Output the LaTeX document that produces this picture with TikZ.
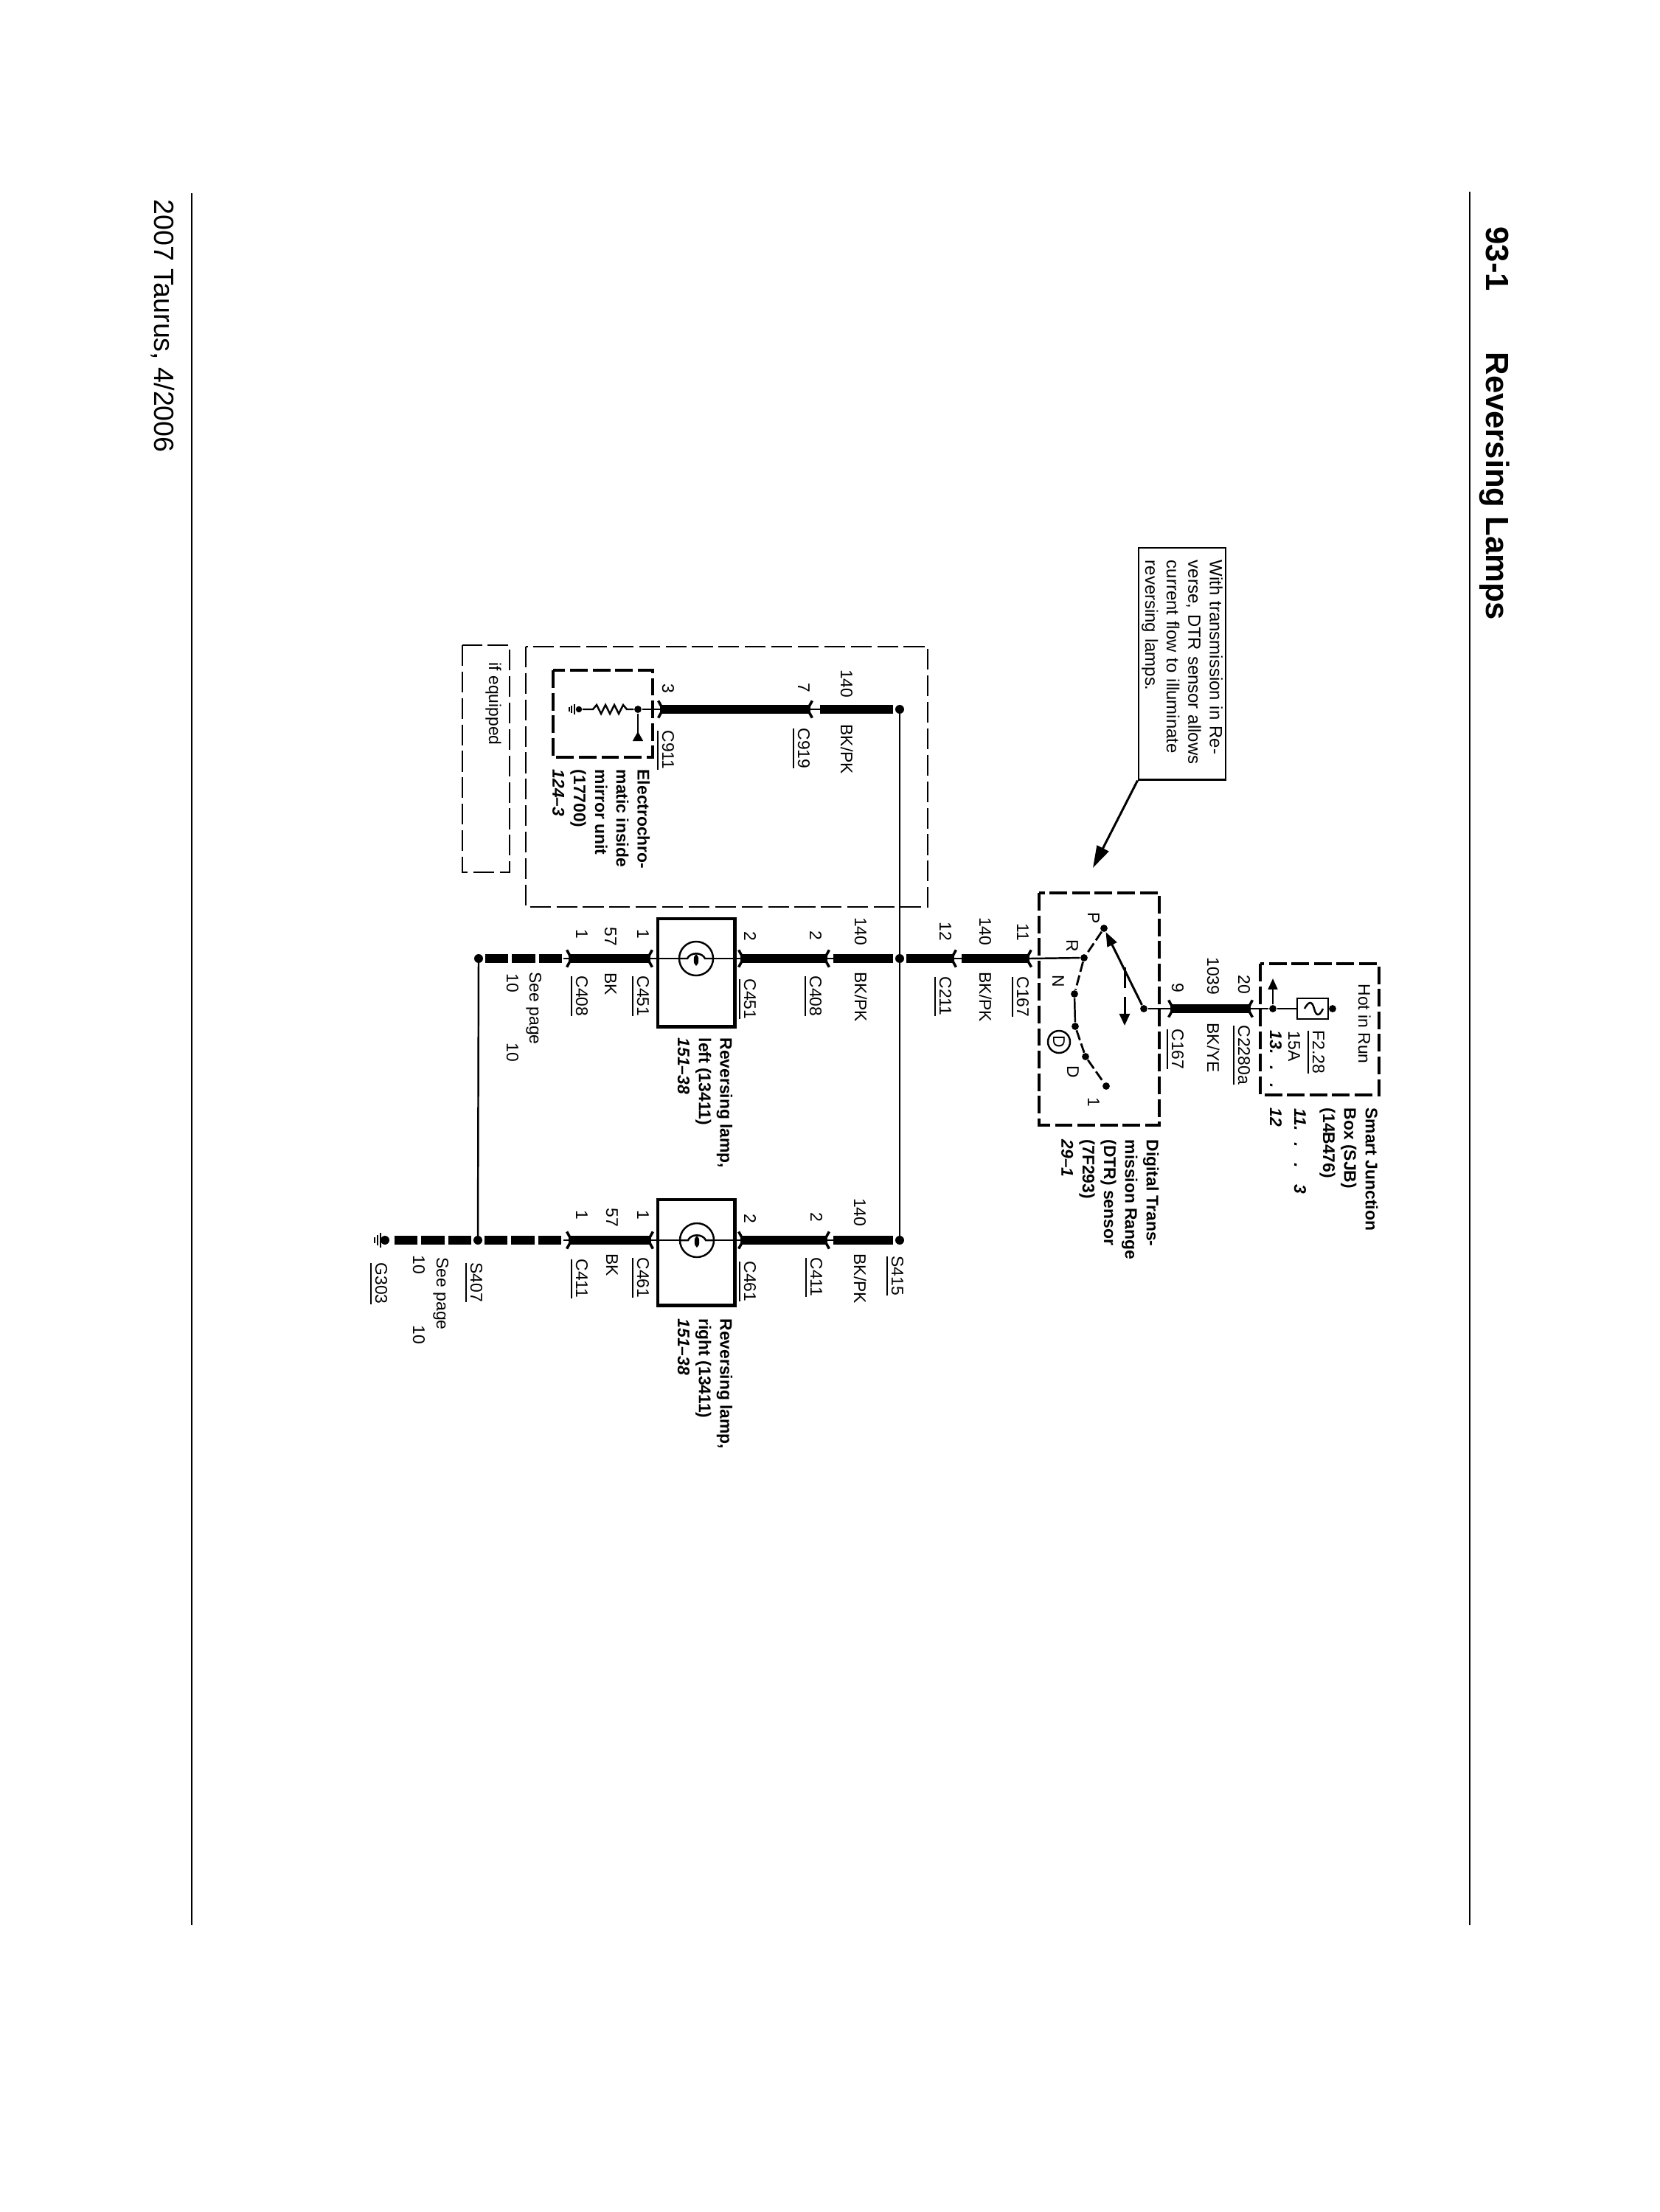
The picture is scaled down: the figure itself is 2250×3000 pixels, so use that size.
\documentclass[tikz,border=0pt]{standalone}
\usepackage{fontspec}
\setmainfont{Liberation Sans}
\usetikzlibrary{arrows.meta}

% connector name, printed over a rule
\newcommand{\conname}[1]{\vtop{\hbox{#1}\kern1.5pt\hrule height 0.5pt}}

\tikzset{
  lbl/.style={rotate=-90, anchor=base west, inner sep=0pt, font=\fontsize{6.5}{8.2}\selectfont},
  num/.style={lbl, anchor=base east},
  bigtxt/.style={lbl, align=left, anchor=north west, font=\fontsize{6.5}{8.2}\selectfont\bfseries},
  wire/.style={line width=3.4pt},
  wiredash/.style={wire, dash pattern=on 8.9pt off 1.4pt},
  hair/.style={line width=0.7pt},
  linkin/.style={hair, -{Straight Barb[length=1.8pt,width=6.6pt,line width=1pt]}, shorten >=-1.7pt},
  spl/.style={circle, fill=black, inner sep=0pt, minimum size=3.4pt, outer sep=0.9pt},
  cdot/.style={circle, fill=black, inner sep=0pt, minimum size=2.8pt},
  heavydash/.style={line width=1.2pt, dash pattern=on 6.8pt off 1.9pt},
  lightdash/.style={line width=0.7pt, dash pattern=on 8pt off 2.2pt},
  contact/.style={line width=0.8pt, dash pattern=on 4pt off 1.4pt},
  lampbox/.style={draw, line width=1.4pt, minimum width=1.04cm, inner sep=0pt},
  lampbulb/.pic={
    \draw[hair, fill=white] (0,0) circle [radius=0.23cm];
    \draw[hair] (-23,0) -- (-12,0) .. controls (-8,-9) and (8,-9) .. (12,0) -- (23,0);
    \draw[hair, fill=black] (0,2) ellipse [x radius=0.02cm, y radius=0.06cm];
  }
}

\begin{document}
\begin{tikzpicture}[x=0.01cm, y=-0.01cm]
  \useasboundingbox (0,0) rectangle (2250,3000);

  % page frame
  \coordinate (ruleRa) at (1993,260);
  \coordinate (ruleRb) at (1993,2611);
  \coordinate (ruleLa) at (260,262);
  \coordinate (ruleLb) at (260,2611);
  \draw[line width=0.8pt] (ruleRa) -- (ruleRb);
  \draw[line width=0.6pt] (ruleLa) -- (ruleLb);
  \node[lbl, font=\fontsize{12.4}{14}\selectfont\bfseries] (pagenum) at (2015,307) {93-1};
  \node[lbl, font=\fontsize{12.4}{14}\selectfont\bfseries] (pagetitle) at (2015,477) {Reversing Lamps};
  \node[lbl, font=\fontsize{10.7}{12}\selectfont] (pagefoot) at (209,270) {2007 Taurus, 4/2006};

  % note
  \node[rotate=-90, draw, line width=0.8pt, minimum width=3.14cm, minimum height=1.18cm,
    inner xsep=0.17cm, inner ysep=0pt, text width=2.8cm, align=left,
    font=\fontsize{6.8}{8.3}\selectfont] (note) at (1603,900)
    {With transmission in Re-\\verse, DTR sensor allows\\current flow to illuminate\\reversing lamps.};
  \coordinate (notetip) at (1482,1177);
  \draw[line width=0.85pt, -{Triangle[length=8.5pt,width=5pt]}] (note.south east) -- (notetip);

  % smart junction box
  \draw[heavydash] (1709,1307) rectangle (1870,1485);
  \node[draw, line width=0.8pt, minimum width=0.42cm, minimum height=0.28cm, inner sep=0pt] (fuse) at (1780,1368) {};
  \node[cdot] (fuseend) at (1807,1368) {};
  \node[cdot] (sjbjct) at (1726,1368) {};
  \coordinate (sjbtip) at (1726,1327);
  \coordinate (c2280) at (1696,1368);
  \coordinate (c167b) at (1587,1368);
  \draw[hair] (1769,1368) .. controls (1776,1355) and (1780,1360) .. (1782,1368)
    .. controls (1784,1376) and (1788,1381) .. (1794,1368);
  \draw[hair] (fuse) -- (fuseend);
  \draw[hair] (sjbjct) -- (fuse);
  \draw[hair, -{Triangle[length=4.2pt,width=3.6pt]}] (sjbjct) -- (sjbtip);
  \draw[wire] (c167b) -- (c2280);
  \draw[linkin] (sjbjct) -- (c2280);
  \node[lbl] (hotrun) at (1842,1334) {Hot in Run};
  \node[lbl] (fusename) at (1780,1397) {\conname{F2.28}};
  \node[lbl] (fuseamp) at (1747,1398) {15A};
  \node[lbl, font=\fontsize{6.5}{8.2}\selectfont\bfseries\itshape] (sjbpagea) at (1722,1397) {13.\hspace{4.5pt}.\hspace{5pt}.\hspace{7.7pt}12};
  \node[lbl, font=\fontsize{6.5}{8.2}\selectfont\bfseries\itshape] (sjbpageb) at (1755,1503) {11.\hspace{4.5pt}.\hspace{6pt}.\hspace{6.5pt}3};
  \node[bigtxt] (sjbname) at (1869,1502) {Smart Junction\\Box (SJB)\\(14B476)};
  \node[num] (pin20) at (1679,1349) {20};
  \node[lbl] (c2280name) at (1679,1390) {\conname{C2280a}};
  \node[num] (wire1039) at (1637,1350) {1039};
  \node[lbl] (bkye) at (1637,1387) {BK/YE};
  \node[num] (pin9) at (1589,1347) {9};
  \node[lbl] (c167bname) at (1589,1395) {\conname{C167}};

  % digital transmission range sensor
  \draw[heavydash] (1409,1211) rectangle (1572,1526);
  \node[cdot] (armdot) at (1551,1368) {};
  \node[cdot] (swP) at (1497,1259) {};
  \node[cdot] (swR) at (1470,1299) {};
  \node[cdot] (swN) at (1457,1348) {};
  \node[cdot] (swX) at (1458,1392) {};
  \node[cdot] (swD) at (1472,1433) {};
  \node[cdot] (sw1) at (1500,1473) {};
  \coordinate (armmid) at (1525,1312);
  \coordinate (armtip) at (1525,1391);
  \draw[line width=0.85pt, -{Triangle[length=5.5pt,width=4pt]}] (armdot) -- (swP);
  \draw[line width=0.85pt, dash pattern=on 8pt off 3.4pt, -{Triangle[length=4.6pt,width=4pt]}] (armmid) -- (armtip);
  \draw[contact] (swP) -- (swR) -- (swN);
  \draw[hair] (swN) -- (swX);
  \draw[contact] (swX) -- (swD) -- (sw1);
  \draw[linkin] (armdot) -- (c167b);
  \node[lbl] (labP) at (1475,1237) {P};
  \node[lbl] (labR) at (1446,1274) {R};
  \node[lbl] (labN) at (1427,1322) {N};
  \node[lbl] (labD) at (1447,1445) {D};
  \node[lbl] (lab1) at (1475,1488) {1};
  \node[circle, draw, hair, inner sep=0pt, minimum size=0.3cm, rotate=-90, font=\fontsize{6.5}{8.2}\selectfont] (gearD) at (1436,1413) {D};
  \node[bigtxt] (dtrname) at (1572,1545) {Digital Trans-\\mission Range\\(DTR) sensor\\(7F293)\\\textit{29--1}};

  % wire to the left lamp
  \node[spl] (dotA) at (1220,1300) {};
  \node[spl] (dotL) at (649,1300) {};
  \coordinate (a1) at (764,1300);
  \coordinate (a2) at (771,1300);
  \coordinate (a3) at (882,1300);
  \coordinate (lampLa) at (892,1300);
  \coordinate (lampLb) at (996,1300);
  \coordinate (a4) at (1004,1300);
  \coordinate (a5) at (1122,1300);
  \coordinate (a6) at (1130,1300);
  \coordinate (a7) at (1294,1300);
  \coordinate (a8) at (1304,1300);
  \coordinate (a9) at (1396,1300);
  \draw[wiredash] (dotL) -- (a1);
  \draw[wire] (a2) -- (a3);
  \draw[wire] (a4) -- (a5);
  \draw[wire] (a6) -- (dotA);
  \draw[wire] (dotA) -- (a7);
  \draw[wire] (a8) -- (a9);
  \draw[linkin] (a1) -- (a2);
  \draw[linkin] (lampLa) -- (a3);
  \draw[linkin] (lampLb) -- (a4);
  \draw[linkin] (a6) -- (a5);
  \draw[linkin] (a8) -- (a7);
  \draw[linkin] (swR) -- (a9);
  \node[lampbox, minimum height=1.46cm] (lampL) at (944,1319) {};
  \draw[hair] (lampLa) -- (lampLb);
  \pic at (944,1300) {lampbulb};

  % wire to the right lamp and to ground
  \node[spl] (dotB) at (1220,1682) {};
  \node[spl] (s407) at (648,1682) {};
  \node[spl] (gnddot) at (522,1682) {};
  \coordinate (b0) at (533,1682);
  \coordinate (b1) at (764,1682);
  \coordinate (b2) at (771,1682);
  \coordinate (b3) at (883,1682);
  \coordinate (lampRa) at (893,1682);
  \coordinate (lampRb) at (995,1682);
  \coordinate (b4) at (1004,1682);
  \coordinate (b5) at (1122,1682);
  \coordinate (b6) at (1130,1682);
  \draw[wiredash] (s407) -- (b0);
  \draw[wiredash] (s407) -- (b1);
  \draw[wire] (b2) -- (b3);
  \draw[wire] (b4) -- (b5);
  \draw[wire] (b6) -- (dotB);
  \draw[linkin] (b1) -- (b2);
  \draw[linkin] (lampRa) -- (b3);
  \draw[linkin] (lampRb) -- (b4);
  \draw[linkin] (b6) -- (b5);
  \node[lampbox, minimum height=1.43cm] (lampR) at (944,1698.5) {};
  \draw[hair] (lampRa) -- (lampRb);
  \pic at (945,1682) {lampbulb};
  \draw[line width=0.8pt] (516,1672) -- (516,1692);
  \draw[line width=0.8pt] (512,1675) -- (512,1689);
  \draw[line width=0.8pt] (508,1678) -- (508,1686);

  % mirror branch, in the optional box
  \draw[lightdash] (713,877) rectangle (1258,1230);
  \draw[lightdash] (627,875) rectangle (691,1183);
  \draw[heavydash] (750,909) rectangle (885,1027);
  \node[spl] (dotM) at (1220,962) {};
  \node[cdot] (mjct) at (865,962) {};
  \node[cdot, minimum size=2.4pt] (mgnd) at (785,962) {};
  \coordinate (m1) at (895,962);
  \coordinate (m2) at (1099,962);
  \coordinate (m3) at (1112,962);
  \coordinate (mtri) at (865,1005);
  \draw[wire] (m1) -- (m2);
  \draw[wire] (m3) -- (dotM);
  \draw[linkin] (m3) -- (m2);
  \draw[linkin] (mjct) -- (m1);
  \draw[hair] (mjct) -- (850,962) -- (845,956) -- (839,968) -- (833,956) -- (827,968)
    -- (821,956) -- (815,968) -- (809,956) -- (804,962) -- (mgnd);
  \draw[hair, -{Triangle[reversed,length=3.7pt,width=3.9pt]}] (mjct) -- (mtri);
  \draw[line width=0.7pt] (779,955) -- (779,969);
  \draw[line width=0.7pt] (775,957) -- (775,967);
  \draw[line width=0.7pt] (772,959) -- (772,965);

  % long thin runs
  \draw[hair] (dotM.center) -- (dotB.center);
  \draw[hair] (dotL.center) -- (s407.center);

  % labels along the mirror branch
  \node[lbl] (equip) at (663,898) {if equipped};
  \node[bigtxt] (mirname) at (882,1043) {Electrochro-\\matic inside\\mirror unit\\(17700)\\\textit{124--3}};
  \node[num] (pin3) at (898,941) {3};
  \node[lbl] (c911) at (898,990) {\conname{C911}};
  \node[num] (pin7) at (1082,940) {7};
  \node[lbl] (c919) at (1082,987) {\conname{C919}};
  \node[num] (wire140m) at (1140,947) {140};
  \node[lbl] (bkpkm) at (1140,982) {BK/PK};

  % labels along the left lamp
  \node[num] (wire140c) at (1328,1283) {140};
  \node[lbl] (bkpkc) at (1328,1318) {BK/PK};
  \node[num] (pin11) at (1379,1277) {11};
  \node[lbl] (c167a) at (1379,1324) {\conname{C167}};
  \node[num] (pin12) at (1274,1277) {12};
  \node[lbl] (c211) at (1274,1324) {\conname{C211}};
  \node[num] (wire140a) at (1159,1283) {140};
  \node[lbl] (bkpka) at (1159,1318) {BK/PK};
  \node[num] (pin2c) at (1098,1276) {2};
  \node[lbl] (c408b) at (1098,1323) {\conname{C408}};
  \node[num] (pin2d) at (1009,1277) {2};
  \node[lbl] (c451b) at (1009,1327) {\conname{C451}};
  \node[num] (pin1e) at (864,1274) {1};
  \node[lbl] (c451a) at (864,1323) {\conname{C451}};
  \node[num] (wire57a) at (820,1284) {57};
  \node[lbl] (bka) at (820,1319) {BK};
  \node[num] (pin1f) at (781,1274) {1};
  \node[lbl] (c408a) at (781,1323) {\conname{C408}};
  \node[lbl] (seepagea) at (718,1318) {See page};
  \node[lbl] (pagea) at (687,1320) {10};
  \node[lbl] (pageb) at (687,1414) {10};
  \node[bigtxt] (lampLname) at (994,1407) {Reversing lamp,\\left (13411)\\\textit{151--38}};

  % labels along the right lamp
  \node[lbl] (s415name) at (1209,1703) {\conname{S415}};
  \node[num] (wire140b) at (1158,1664) {140};
  \node[lbl] (bkpkb) at (1158,1700) {BK/PK};
  \node[num] (pin2g) at (1099,1658) {2};
  \node[lbl] (c411b) at (1099,1705) {\conname{C411}};
  \node[num] (pin2h) at (1009,1660) {2};
  \node[lbl] (c461b) at (1009,1710) {\conname{C461}};
  \node[num] (pin1i) at (864,1655) {1};
  \node[lbl] (c461a) at (864,1705) {\conname{C461}};
  \node[num] (wire57b) at (822,1665) {57};
  \node[lbl] (bkb) at (822,1700) {BK};
  \node[num] (pin1j) at (781,1655) {1};
  \node[lbl] (c411a) at (781,1707) {\conname{C411}};
  \node[lbl] (s407name) at (638,1712) {\conname{S407}};
  \node[lbl] (seepageb) at (592,1705) {See page};
  \node[lbl] (pagec) at (560,1702) {10};
  \node[lbl] (paged) at (560,1797) {10};
  \node[lbl] (g303) at (509,1712) {\conname{G303}};
  \node[bigtxt] (lampRname) at (994,1788) {Reversing lamp,\\right (13411)\\\textit{151--38}};
\end{tikzpicture}
\end{document}
